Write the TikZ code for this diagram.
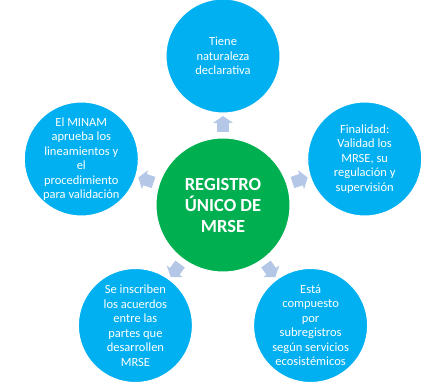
\documentclass[tikz,border=0pt]{standalone}
\usepackage{fontspec}
\setmainfont{Carlito}
\usetikzlibrary{shapes.arrows,calc}
\definecolor{cblue}{HTML}{00B0F0}
\definecolor{cgreen}{HTML}{00B050}
\definecolor{carrow}{HTML}{B4C7E7}
\begin{document}
\begin{tikzpicture}[x=1pt,y=-1pt,
  outer/.style={circle,fill=cblue,draw=white,line width=1pt,minimum size=114pt,inner sep=0pt,
    text=white,align=center,font=\fontsize{12.5}{14.5}\selectfont},
  hub/.style={circle,fill=cgreen,draw=white,line width=1pt,minimum size=134pt,inner sep=0pt,
    text=white,align=center,font=\fontsize{18.5}{21}\selectfont\bfseries},
  blockarrow/.style={single arrow,fill=carrow,draw=none,inner xsep=0pt,inner ysep=5.5pt,
    minimum width=20pt,minimum height=16pt,single arrow head extend=4pt,
    single arrow tip angle=110}]
\useasboundingbox (0,0) rectangle (438,382);
\node[hub] (c) at (223,205) {REGISTRO\\ÚNICO DE\\MRSE};
\node[outer] (t) at ($(c)+(90:-149)$) {Tiene\\naturaleza\\declarativa};
\node[outer] (r) at (364.7,159) {Finalidad:\\Validad los\\MRSE, su\\regulación y\\supervisión};
\node[outer] (br) at (310.6,325.5) {Está\\compuesto\\por\\subregistros\\según servicios\\ecosistémicos};
\node[outer] (bl) at (135.4,325.5) {Se inscriben\\los acuerdos\\entre las\\partes que\\desarrollen\\MRSE};
\node[outer] (l) at (81.3,159) {El MINAM\\aprueba los\\lineamientos y\\el\\procedimiento\\para validación};
\node[blockarrow,rotate=90] (at) at ($(c)!0.53!(t)$) {};
\node[blockarrow,rotate=18] (ar) at ($(c)!0.53!(r)$) {};
\node[blockarrow,rotate=-54] (abr) at ($(c)!0.53!(br)$) {};
\node[blockarrow,rotate=-126] (abl) at ($(c)!0.53!(bl)$) {};
\node[blockarrow,rotate=162] (al) at ($(c)!0.53!(l)$) {};
\end{tikzpicture}
\end{document}
